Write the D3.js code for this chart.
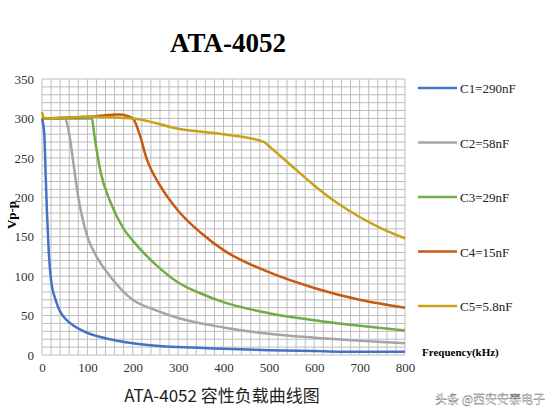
<!DOCTYPE html><html><head><meta charset="utf-8"><script src="https://cdn.jsdelivr.net/npm/d3@7"></script>
<style>body{margin:0;background:#fff}</style></head><body><svg id="c" width="553" height="417"></svg>
<script>
const xTicks=[0,100,200,300,400,500,600,700,800];
const yTicks=[0,50,100,150,200,250,300,350];
const names=["C1=290nF","C2=58nF","C3=29nF","C4=15nF","C5=5.8nF"];
const colors=["#4472c4","#a5a5a5","#70ad47","#c55a11","#c9a21a"];
const c1=[[0,300],[5,280],[8,230],[11,180],[15,130],[20,95],[30,70],[40,55],[50,47],[70,37],[100,28],[150,20],[200,15],[300,10],[400,8],[500,6],[600,5],[700,4],[800,4]];
const c2=[[0,300],[50,300],[60,280],[70,240],[80,200],[100,150],[120,125],[150,100],[200,70],[250,57],[300,47],[400,35],[500,27],[600,22],[700,18],[800,15]];
const c3=[[0,300],[110,300],[115,280],[130,230],[150,195],[180,160],[200,145],[250,115],[300,92],[350,78],[400,67],[500,53],[600,44],[700,37],[800,31]];
const c4=[[0,300],[100,302],[170,305],[200,300],[215,280],[230,250],[260,215],[300,183],[350,155],[400,133],[500,105],[600,85],[700,70],[800,60]];
const c5=[[0,308],[5,300],[100,302],[200,300],[300,287],[400,280],[490,270],[500,265],[550,240],[600,215],[650,193],[700,175],[750,160],[800,148]];
const series=[c1,c2,c3,c4,c5];
const svg=d3.select("#c");
const x=d3.scaleLinear().domain([0,800]).range([42,405]);
const y=d3.scaleLinear().domain([0,350]).range([355,79]);
const g=svg.append("g");
g.selectAll(".vg").data(d3.range(0,801,20)).enter().append("line").attr("x1",d=>x(d)).attr("x2",d=>x(d)).attr("y1",y(0)).attr("y2",y(350)).attr("stroke","#bdbdbd").attr("stroke-width",1);
g.selectAll(".hg").data(d3.range(0,351,10)).enter().append("line").attr("y1",d=>y(d)).attr("y2",d=>y(d)).attr("x1",x(0)).attr("x2",x(800)).attr("stroke","#bdbdbd").attr("stroke-width",1);
const ax=svg.append("g").attr("transform","translate(0,355)").call(d3.axisBottom(x).tickValues(xTicks).tickSize(0).tickPadding(8));
const ay=svg.append("g").attr("transform","translate(42,0)").call(d3.axisLeft(y).tickValues(yTicks).tickSize(0).tickPadding(8));
[ax,ay].forEach(a=>{a.select(".domain").remove();a.selectAll("text").attr("font-family","Liberation Serif").attr("font-size",13).attr("fill","#333");});
const line=d3.line().x(d=>x(d[0])).y(d=>y(d[1])).curve(d3.curveMonotoneX);
series.forEach((s,i)=>svg.append("path").attr("d",line(s)).attr("fill","none").attr("stroke",colors[i]).attr("stroke-width",2.5));
names.forEach((n,i)=>{const yy=88+i*54.5;
svg.append("line").attr("x1",418).attr("x2",457).attr("y1",yy).attr("y2",yy).attr("stroke",colors[i]).attr("stroke-width",2.5);
svg.append("text").attr("x",460).attr("y",yy+5).text(n).attr("font-family","Liberation Serif").attr("font-size",13).attr("fill","#222");});
svg.append("text").attr("x",422).attr("y",356).text("Frequency(kHz)").attr("font-family","Liberation Serif").attr("font-weight","bold").attr("font-size",11);
svg.append("text").attr("transform","translate(16,215) rotate(-90)").attr("text-anchor","middle").text("Vp-p").attr("font-family","Liberation Serif").attr("font-weight","bold").attr("font-size",13);
svg.append("text").attr("x",228).attr("y",52).attr("text-anchor","middle").text("ATA-4052").attr("font-family","Liberation Serif").attr("font-weight","bold").attr("font-size",27);
svg.append("text").attr("x",222).attr("y",402).attr("text-anchor","middle").text("ATA-4052 容性负载曲线图").attr("font-family","Noto Sans CJK SC").attr("font-size",17).attr("fill","#222");
svg.append("text").attr("x",545).attr("y",404).attr("text-anchor","end").text("头条 @西安安泰电子").attr("font-family","Noto Sans CJK SC").attr("font-size",12).attr("fill","#fff").attr("stroke","#555").attr("stroke-width",0.3);
</script></body></html>
